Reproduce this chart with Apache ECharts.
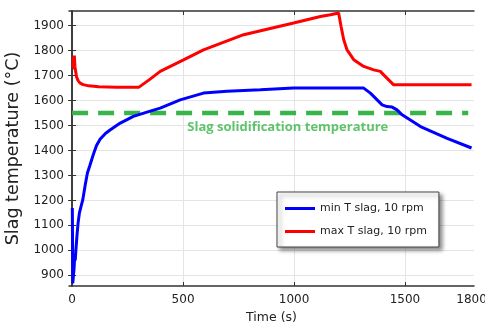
<!DOCTYPE html>
<html>
<head>
<meta charset="utf-8">
<script src="https://cdn.jsdelivr.net/npm/echarts@6.0.0/dist/echarts.min.js"></script>
<style>
  html, body { margin: 0; padding: 0; background: #fff; }
  #chart { width: 485px; height: 323px; }
</style>
</head>
<body>
<div id="chart"></div>
<script>
// time (s), temperature (°C)
const minSlag = [
  [1, 1170], [3, 868], [6, 862], [9, 930], [12, 985], [14, 960], [17, 1000],
  [22, 1060], [27, 1110], [33, 1150], [40, 1175], [48, 1202], [59, 1262],
  [69, 1310], [80, 1340], [96, 1385], [110, 1420], [126, 1445], [150, 1468],
  [171, 1482], [217, 1510], [276, 1537], [352, 1558], [397, 1570], [487, 1603],
  [592, 1630], [698, 1637], [848, 1643], [998, 1650], [1314, 1650], [1344, 1630],
  [1397, 1583], [1419, 1576], [1442, 1574], [1464, 1563], [1487, 1543],
  [1570, 1496], [1690, 1449], [1800, 1410]
];
const maxSlag = [
  [3, 1735], [6, 1775], [8, 1725], [10, 1780], [13, 1735], [17, 1712],
  [20, 1695], [27, 1680], [36, 1670], [50, 1664], [75, 1659], [120, 1655],
  [200, 1653], [300, 1653], [350, 1685], [397, 1717], [502, 1763], [592, 1803],
  [773, 1864], [998, 1911], [1119, 1937], [1164, 1944], [1201, 1951],
  [1212, 1897], [1224, 1844], [1239, 1803], [1269, 1764], [1314, 1737],
  [1359, 1723], [1389, 1717], [1404, 1703], [1449, 1663], [1800, 1663]
];
const solidification = [[0, 1550], [1785, 1550]];
const solidLabelAt = [[972, 1491]];
const xLabels = [0, 500, 1000, 1500, 1800];
const xTicks = [0, 500, 1000, 1500];
const yTicks = [900, 1000, 1100, 1200, 1300, 1400, 1500, 1600, 1700, 1800, 1900];

const AXIS = '#333';
const GRID = '#e4e4e4';
const FONT = 'DejaVu Sans';

const chart = echarts.init(document.getElementById('chart'), null, { renderer: 'canvas' });

const plain = (v) => String(v);

const xBase = {
  type: 'value', min: -14, max: 1811,
  axisLine: { show: true, lineStyle: { color: AXIS, width: 1.5 } },
  axisTick: { show: true, inside: true, length: 4, customValues: xTicks, lineStyle: { color: AXIS } }
};
const yBase = {
  type: 'value', min: 857, max: 1959,
  axisLine: { show: true, lineStyle: { color: AXIS, width: 1.5 } },
  axisTick: { show: true, inside: true, length: 4, customValues: yTicks, lineStyle: { color: AXIS } }
};

chart.setOption({
  animation: false,
  grid: { left: 69, right: 11, top: 11, bottom: 37, outerBoundsMode: 'none', containLabel: false },
  xAxis: [
    Object.assign({}, xBase, {
      position: 'bottom',
      name: 'Time (s)', nameLocation: 'middle', nameGap: 22,
      nameTextStyle: { fontFamily: FONT, fontSize: 12.5, color: '#222' },
      axisLabel: { customValues: xLabels, formatter: plain, fontFamily: FONT, fontSize: 12, color: '#222', margin: 8 },
      splitLine: { show: true, lineStyle: { color: GRID, width: 1 } }
    }),
    Object.assign({}, xBase, {
      position: 'top',
      axisLabel: { show: false },
      splitLine: { show: false }
    })
  ],
  yAxis: [
    Object.assign({}, yBase, {
      position: 'left',
      name: 'Slag temperature (°C)', nameLocation: 'middle', nameGap: 47, nameRotate: 90,
      nameTextStyle: { fontFamily: FONT, fontSize: 17.5, color: '#222' },
      axisLabel: { customValues: yTicks, formatter: plain, fontFamily: FONT, fontSize: 12, color: '#222', margin: 5 },
      splitLine: { show: true, lineStyle: { color: GRID, width: 1 } }
    }),
    Object.assign({}, yBase, {
      position: 'right',
      axisLabel: { show: false },
      splitLine: { show: false }
    })
  ],
  legend: {
    data: ['min T slag, 10 rpm', 'max T slag, 10 rpm'],
    orient: 'vertical',
    left: 277, top: 192,
    icon: 'rect', itemWidth: 30, itemHeight: 3, itemGap: 12,
    padding: [11, 12, 10, 8],
    backgroundColor: '#fff',
    borderColor: '#444', borderWidth: 1, borderRadius: 0,
    shadowColor: 'rgba(0,0,0,0.45)', shadowBlur: 4, shadowOffsetX: 3, shadowOffsetY: 3,
    textStyle: { fontFamily: FONT, fontSize: 11, color: '#222' }
  },
  series: [
    {
      name: 'solidification', type: 'line', data: solidification,
      symbol: 'none', silent: true,
      lineStyle: { color: '#38b549', width: 4.5, type: [16, 10], cap: 'butt' }
    },
    {
      name: 'solidLabel', type: 'scatter', data: solidLabelAt,
      symbolSize: 1, silent: true,
      itemStyle: { color: 'transparent' },
      label: {
        show: true, position: 'inside', formatter: 'Slag solidification temperature',
        fontFamily: 'Open Sans', fontWeight: 'bold', fontSize: 13, color: '#38b549'
      }
    },
    {
      name: 'min T slag, 10 rpm', type: 'line', data: minSlag,
      symbol: 'none', lineStyle: { color: '#0000ff', width: 3 }, itemStyle: { color: '#0000ff' }
    },
    {
      name: 'max T slag, 10 rpm', type: 'line', data: maxSlag,
      symbol: 'none', lineStyle: { color: '#ff0000', width: 3 }, itemStyle: { color: '#ff0000' }
    }
  ]
});
</script>
</body>
</html>
